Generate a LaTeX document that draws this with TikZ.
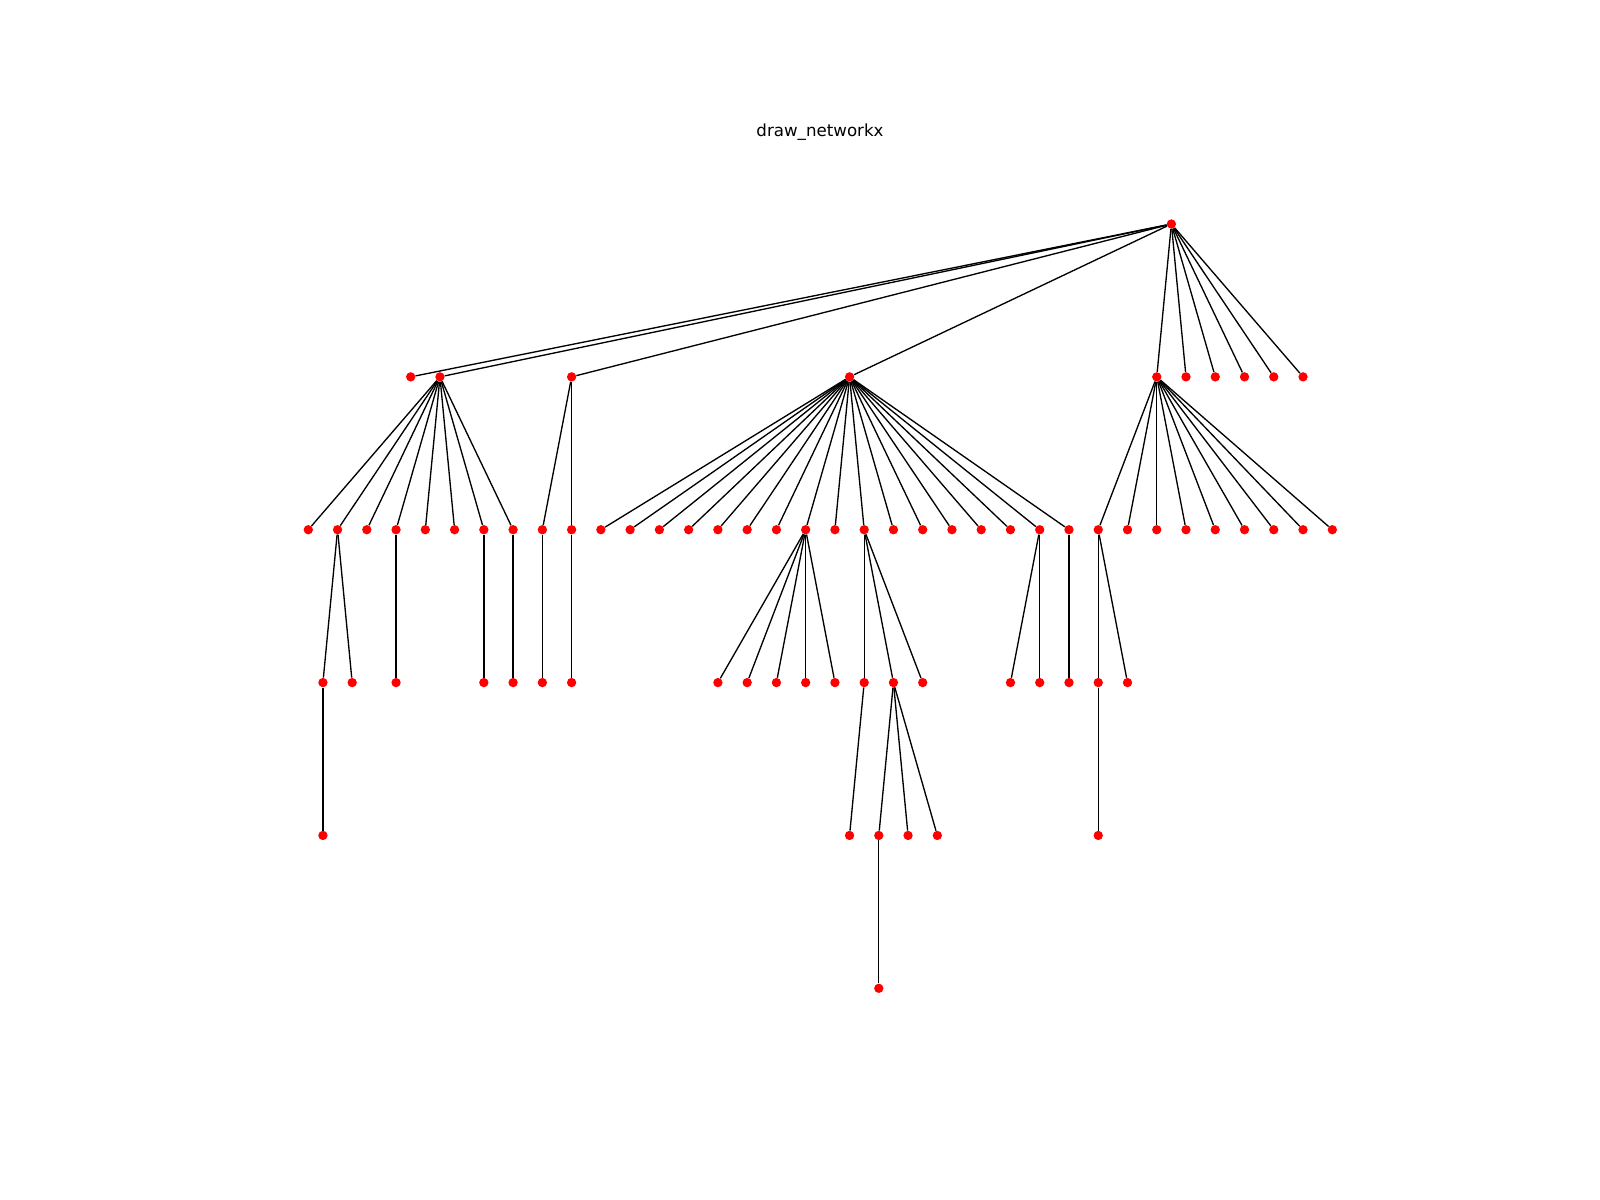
\documentclass[tikz,border=0pt]{standalone}
\usepackage{fontspec}
\setmainfont{DejaVu Sans}
\begin{document}
\begin{tikzpicture}[x=0.75pt,y=-0.75pt,
  nd/.style={circle,fill=red,draw=none,inner sep=0pt,minimum size=7pt},
  edge/.style={line width=1pt,black}]
\useasboundingbox (0,0) rectangle (1600,1200);
\node[anchor=base,font=\fontsize{12.5}{15}\selectfont] (title) at (820,136) {draw\_networkx};
\begin{scope}[xshift=231.225pt,yshift=-168pt,x=21.94275pt,y=-114.645pt]
  % root
  \node[nd] (r) at (29.5,0) {};
  % level 1
  \foreach \k/\n in {3.5/a,4.5/b,9/c,18.5/d,29/e,30/f,31/g,32/h,33/i,34/j}
    \node[nd] (\n) at (\k,1) {};
  % level 2
  \foreach \k in {0,...,35}
    \node[nd] (n\k) at (\k,2) {};
  % level 3
  \node[nd] (m0a) at (0.5,3) {};
  \node[nd] (m1a) at (1.5,3) {};
  \foreach \k in {3,6,7,8,9,14,15,16,17,18,19,20,21,24,25,26,27,28}
    \node[nd] (m\k) at (\k,3) {};
  % level 4
  \node[nd] (p0a) at (0.5,4) {};
  \node[nd] (p18a) at (18.5,4) {};
  \node[nd] (p19a) at (19.5,4) {};
  \node[nd] (p20a) at (20.5,4) {};
  \node[nd] (p21a) at (21.5,4) {};
  \node[nd] (p27) at (27,4) {};
  % level 5
  \node[nd] (q) at (19.5,5) {};
\end{scope}
% edges
\foreach \n in {a,b,c,d,e,f,g,h,i,j}
  \draw[edge] (r) -- (\n);
\foreach \k in {0,...,7}
  \draw[edge] (b) -- (n\k);
\foreach \k in {8,9}
  \draw[edge] (c) -- (n\k);
\foreach \k in {10,...,26}
  \draw[edge] (d) -- (n\k);
\foreach \k in {27,...,35}
  \draw[edge] (e) -- (n\k);
\draw[edge] (n1) -- (m0a);
\draw[edge] (n1) -- (m1a);
\foreach \p/\c in {3/3,6/6,7/7,8/8,9/9,17/14,17/15,17/16,17/17,17/18,19/19,19/20,19/21,25/24,25/25,26/26,27/27,27/28}
  \draw[edge] (n\p) -- (m\c);
\draw[edge] (m0a) -- (p0a);
\draw[edge] (m19) -- (p18a);
\draw[edge] (m20) -- (p19a);
\draw[edge] (m20) -- (p20a);
\draw[edge] (m20) -- (p21a);
\draw[edge] (m27) -- (p27);
\draw[edge] (p19a) -- (q);
\end{tikzpicture}
\end{document}
